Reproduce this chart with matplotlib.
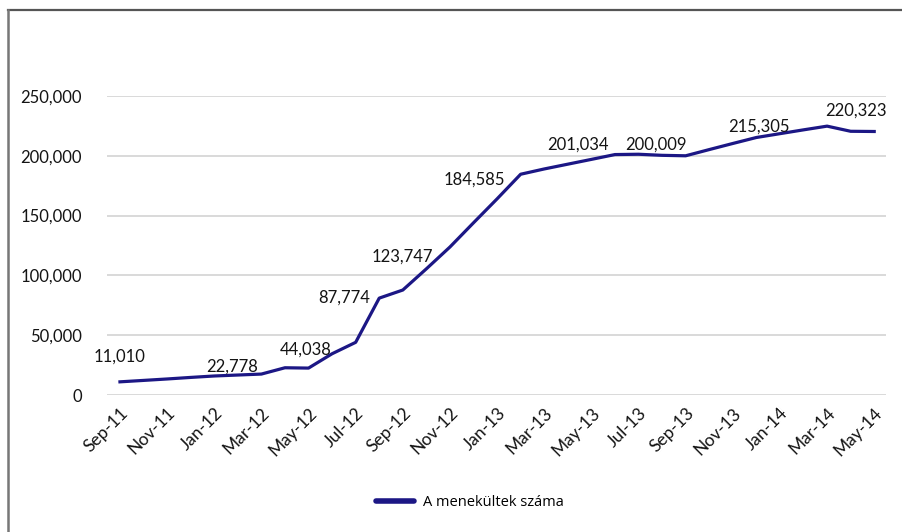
import matplotlib
matplotlib.use("Agg")
import matplotlib.pyplot as plt
from matplotlib.lines import Line2D

# ---- data ----
months = ["Sep-11", "Oct-11", "Nov-11", "Dec-11", "Jan-12", "Feb-12", "Mar-12", "Apr-12",
          "May-12", "Jun-12", "Jul-12", "Aug-12", "Sep-12", "Oct-12", "Nov-12", "Dec-12",
          "Jan-13", "Feb-13", "Mar-13", "Apr-13", "May-13", "Jun-13", "Jul-13", "Aug-13",
          "Sep-13", "Oct-13", "Nov-13", "Dec-13", "Jan-14", "Feb-14", "Mar-14", "Apr-14",
          "May-14"]
refugees = [11010, 12200, 13400, 14700, 15900, 16700, 17500, 22778,
            22500, 34500, 44038, 81000, 87774, 105500, 123747, 144000,
            164000, 184585, 189000, 193000, 197000, 201034, 201300, 200400,
            200009, 205200, 210300, 215305, 218500, 221700, 224800, 220500,
            220323]
labeled_months = ["Sep-11", "Apr-12", "Jul-12", "Sep-12", "Nov-12", "Feb-13",
                  "Jun-13", "Sep-13", "Dec-13", "May-14"]
tick_labels = months[::2]
y_ticks = [0, 50000, 100000, 150000, 200000, 250000]
series_name = "A menekültek száma"

# label offsets in pixels (dx, dy) - layout only
label_offsets = [(0, 25), (-53, 1), (-50, -7), (-59, -8), (-48, -10), (-46, -5),
                 (-37, 10), (-30, 11), (3, 11), (-18, 21)]

plt.rcParams['font.family'] = ['Lato', 'DejaVu Sans']
W, H = 903, 532
fig = plt.figure(figsize=(W / 100, H / 100), dpi=100)
fig.patch.set_facecolor("white")

ax = fig.add_axes([107 / W, 1 - 395 / H, (886 - 107) / W, (395 - 96) / H])
x = list(range(len(months)))
line_color = "#1c1785"
ax.plot(x, refugees, color=line_color, lw=2.3, solid_joinstyle="round", zorder=3)

text_color = "#141414"
ax.set_xlim(-0.55, len(months) - 0.5)
ax.set_ylim(0, 250000)
ax.set_yticks(y_ticks)
ax.set_yticklabels([f"{v:,}" for v in y_ticks], fontsize=12, color=text_color)
ax.set_xticks(x[::2])
ax.set_xticklabels(tick_labels, rotation=45, ha="right", va="top",
                   rotation_mode="anchor", fontsize=12.5, color=text_color)
ax.tick_params(axis="both", length=0)
ax.tick_params(axis="y", pad=18)
ax.tick_params(axis="x", pad=7)
ax.grid(axis="y", color="#d9d9d9", lw=1.4)
ax.set_axisbelow(True)
for s in ax.spines.values():
    s.set_visible(False)

for m, (dx, dy) in zip(labeled_months, label_offsets):
    i = months.index(m)
    v = refugees[i]
    ax.annotate(f"{v:,}", xy=(i, v), xytext=(dx * 0.72, dy * 0.72),
                textcoords="offset points", ha="center", va="center",
                fontsize=12, color=text_color, zorder=4)

# legend
handle = Line2D([0], [0], color=line_color, lw=4, solid_capstyle="round")
fig.legend([handle], [series_name], loc="center", bbox_to_anchor=(470 / W, 1 - 503 / H),
           frameon=False, handlelength=2.6, handletextpad=0.6,
           prop={'family': ['Open Sans', 'DejaVu Sans'], 'size': 10.5})

# screenshot frame (top and left edges)
fig.add_artist(Line2D([7.5 / W, 1], [1 - 10 / H, 1 - 10 / H], color="#555555", lw=1.6,
                      transform=fig.transFigure))
fig.add_artist(Line2D([7.5 / W, 7.5 / W], [0, 1 - 10 / H], color="#777777", lw=1.8,
                      transform=fig.transFigure))

fig.savefig("out.png", dpi=100, facecolor="white")
